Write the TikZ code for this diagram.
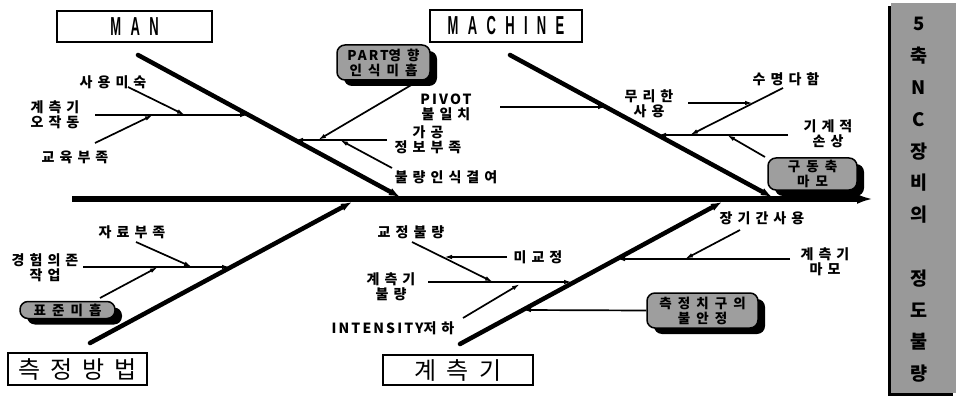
\documentclass[tikz,border=0pt]{standalone}
\usepackage{fontspec}
\usetikzlibrary{arrows.meta,shadows}
\newfontfamily\kr[LetterSpace=36]{Noto Sans CJK KR}
\newfontfamily\krbox[LetterSpace=45]{Noto Sans CJK KR}
\newfontfamily\krlat[LetterSpace=15]{Noto Sans CJK KR}
\newfontfamily\krbig[LetterSpace=42]{Noto Sans CJK KR}
\newfontfamily\engc[FakeStretch=0.5,LetterSpace=36]{Liberation Sans}
\begin{document}
\begin{tikzpicture}[x=1pt,y=-1pt,
  lbl/.style={font=\kr\bfseries\fontsize{14}{15}\selectfont, align=center, inner sep=0pt},
  latlbl/.style={font=\krlat\bfseries\fontsize{14}{15}\selectfont, align=center, inner sep=0pt},
  tbox/.style={draw, line width=1.5pt, inner sep=0pt},
  engtitle/.style={font=\engc\bfseries\fontsize{26}{26}\selectfont},
  krtitle/.style={font=\krbig\fontsize{24}{24}\selectfont},
  shbox/.style={draw, line width=1.5pt, fill=black!38, rounded corners=8pt, inner sep=0pt,
    align=center, font=\krbox\bfseries\fontsize{13.5}{15}\selectfont,
    drop shadow={shadow xshift=7pt, shadow yshift=-6pt, fill=black, opacity=1}},
  spine/.style={line width=5.5pt, -{Latex[length=16pt,width=10pt]}},
  bone/.style={line width=4.5pt, line cap=round, -{Latex[length=11pt,width=8pt]}},
  sub/.style={line width=1.7pt, -{Latex[length=8pt,width=4.5pt]}}
]
\useasboundingbox (0,0) rectangle (956,401);

% right title column
\node[fill=black!40, minimum width=65pt, minimum height=390pt, inner sep=0pt,
  drop shadow={shadow xshift=-3pt, shadow yshift=-3pt, fill=black, opacity=1}] (rbox) at (923.5,198) {};
\node[font=\krlat\bfseries\fontsize{18.5}{31.8}\selectfont, align=center, inner sep=0pt] (rtext) at (919,200)
  {5\\축\\N\\C\\장\\비\\의\\~\\정\\도\\불\\량};

% title boxes
\node[tbox, engtitle, minimum width=155pt, minimum height=31pt] (man) at (134.5,26.5) {MAN};
\node[tbox, engtitle, minimum width=152pt, minimum height=32pt] (mach) at (506,26) {MACHINE};
\node[tbox, krtitle, minimum width=139pt, minimum height=32pt] (meth) at (77.5,369) {측정방법};
\node[tbox, krtitle, minimum width=150pt, minimum height=30pt] (gauge) at (458,370) {계측기};

% spine
\coordinate (sL) at (72,199);
\coordinate (sR) at (873,199);
\draw[spine] (sL) -- (sR);

% main bones
\coordinate (b1a) at (138,55);  \coordinate (b1b) at (400,197);
\coordinate (b2a) at (510,55);  \coordinate (b2b) at (772,197);
\coordinate (b3a) at (90,343);  \coordinate (b3b) at (352,202);
\coordinate (b4a) at (460,344); \coordinate (b4b) at (722,202);
\draw[bone] (b1a) -- (b1b);
\draw[bone] (b2a) -- (b2b);
\draw[bone] (b3a) -- (b3b);
\draw[bone] (b4a) -- (b4b);

% ---------- MAN ----------
\node[lbl] (t1) at (113,82) {사용미숙};
\node[lbl] (t2) at (55,115) {계측기\\오작동};
\node[lbl] (t3) at (75,157) {교육부족};
\coordinate (m1a) at (95,115);  \coordinate (m1b) at (248,115);
\coordinate (m2a) at (128,87);  \coordinate (m2b) at (185,115);
\coordinate (m3a) at (95,143);  \coordinate (m3b) at (153,115);
\draw[sub] (m1a) -- (m1b);
\draw[sub] (m2a) -- (m2b);
\draw[sub] (m3a) -- (m3b);

\node[shbox, minimum width=93pt, minimum height=35pt] (part) at (383.5,62.5)
  {{\krlat PART}영향\\인식미흡};
\node[latlbl] (t5) at (446,107) {PIVOT\\{\kr 불일치}};
\node[lbl] (t6) at (428,140) {가공\\정보부족};
\node[lbl] (t7) at (446,177) {불량인식결여};
\coordinate (m4a) at (387,140); \coordinate (m4b) at (295,140);
\coordinate (m5a) at (413,84);  \coordinate (m5b) at (318,140);
\coordinate (m6a) at (392,168); \coordinate (m6b) at (340,140);
\draw[sub] (m4a) -- (m4b);
\draw[sub] (m5a) -- (m5b);
\draw[sub] (m6a) -- (m6b);

% ---------- MACHINE ----------
\coordinate (p1a) at (500,107); \coordinate (p1b) at (606,107);
\draw[sub] (p1a) -- (p1b);
\node[lbl] (t8) at (649,104) {무리한\\사용};
\node[lbl] (t9) at (786,79) {수명다함};
\node[lbl] (t10) at (828,134) {기계적\\손상};
\coordinate (c1a) at (788,135); \coordinate (c1b) at (658,135);
\coordinate (c2a) at (783,88);  \coordinate (c2b) at (690,135);
\coordinate (c3a) at (688,103); \coordinate (c3b) at (753,103);
\coordinate (c4a) at (765,157); \coordinate (c4b) at (727,135);
\draw[sub] (c1a) -- (c1b);
\draw[sub] (c2a) -- (c2b);
\draw[sub] (c3a) -- (c3b);
\draw[sub] (c4a) -- (c4b);
\node[shbox, minimum width=89pt, minimum height=32pt] (drive) at (812.5,174) {구동축\\마모};

% ---------- 측정방법 ----------
\node[lbl] (t11) at (132,232) {자료부족};
\node[lbl] (t12) at (45,268) {경험의존\\작업};
\coordinate (e1a) at (83,267);  \coordinate (e1b) at (230,267);
\coordinate (e2a) at (136,242); \coordinate (e2b) at (192,267);
\coordinate (e3a) at (100,298); \coordinate (e3b) at (158,267);
\draw[sub] (e1a) -- (e1b);
\draw[sub] (e2a) -- (e2b);
\draw[sub] (e3a) -- (e3b);
\node[shbox, rounded corners=8pt, minimum width=95pt, minimum height=17pt] (std) at (67.5,310) {표준미흡};

% ---------- 계측기 ----------
\node[lbl] (t13) at (411,232) {교정불량};
\node[lbl] (t14) at (538,257) {미교정};
\node[lbl] (t15) at (391,287) {계측기\\불량};
\node[latlbl] (t16) at (393,328) {INTENSITY{\kr 저하}};
\coordinate (g1a) at (428,282); \coordinate (g1b) at (572,282);
\coordinate (g2a) at (412,242); \coordinate (g2b) at (493,282);
\coordinate (g3a) at (507,257); \coordinate (g3b) at (444,257);
\coordinate (g4a) at (463,318); \coordinate (g4b) at (520,284);
\draw[sub] (g1a) -- (g1b);
\draw[sub] (g2a) -- (g2b);
\draw[sub] (g3a) -- (g3b);
\draw[sub] (g4a) -- (g4b);

\node[lbl] (t17) at (762,218) {장기간사용};
\node[lbl] (t18) at (825,262) {계측기\\마모};
\coordinate (h1a) at (790,259); \coordinate (h1b) at (617,259);
\coordinate (h2a) at (740,230); \coordinate (h2b) at (685,259);
\draw[sub] (h1a) -- (h1b);
\draw[sub] (h2a) -- (h2b);
\node[shbox, minimum width=111pt, minimum height=35pt] (jig) at (702.5,310.5) {측정치구의\\불안정};
\coordinate (h3b) at (523,310);
\draw[sub] (jig.west) -- (h3b);
\end{tikzpicture}
\end{document}
